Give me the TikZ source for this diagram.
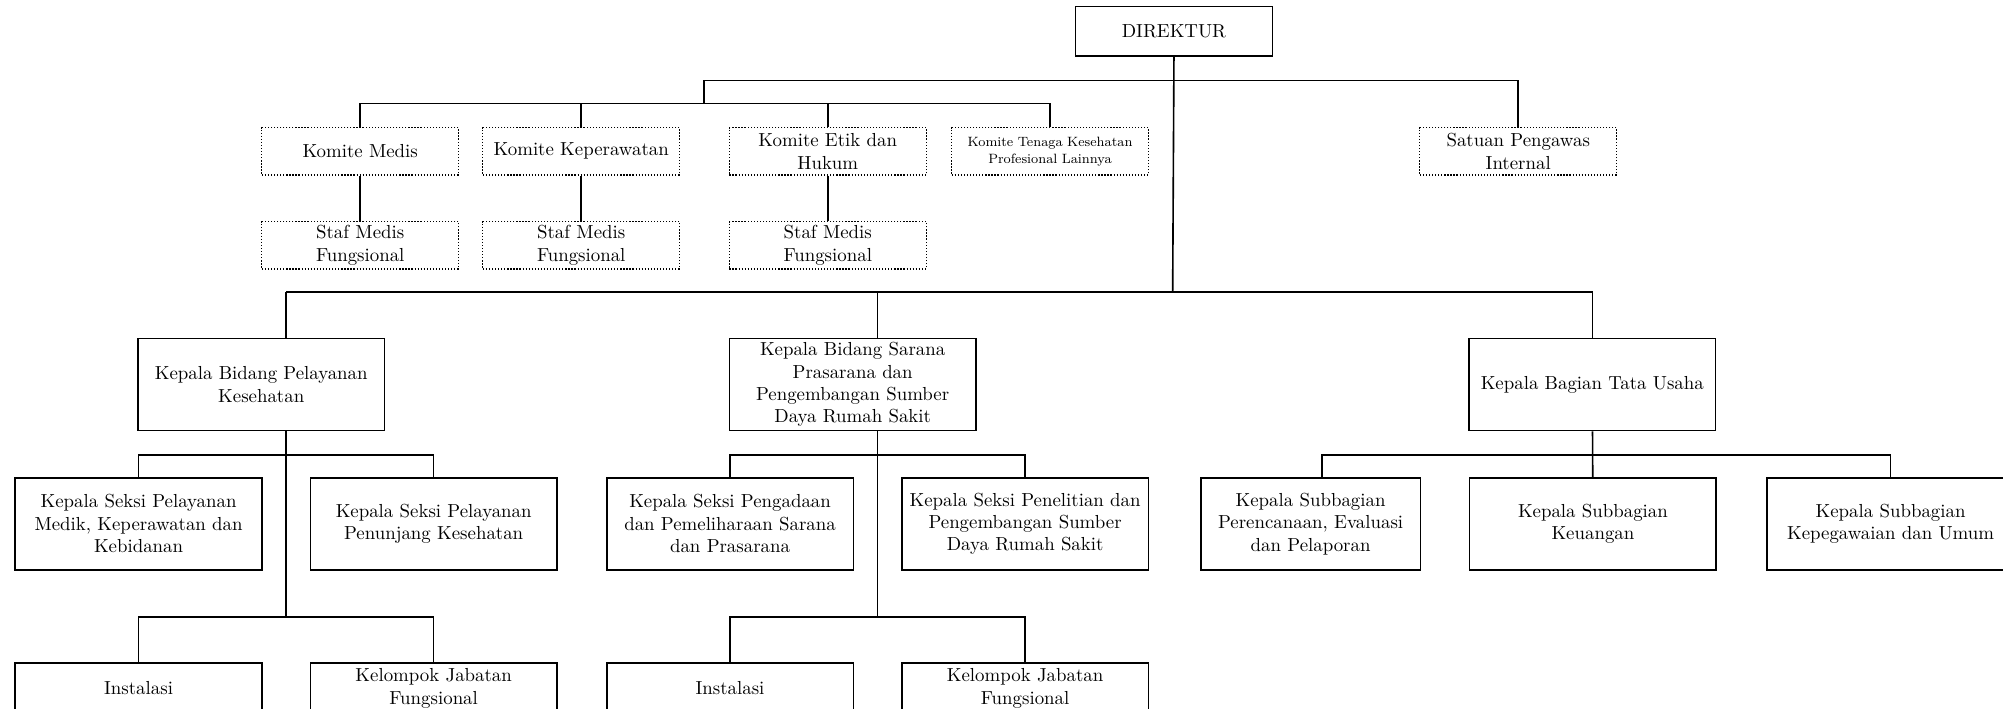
\documentclass[tikz,border=0pt]{standalone}
\usepackage{amsmath}
\usepackage{tikz}

\begin{document}
\begin{tikzpicture}[x=0.025cm,y=-0.025cm,line width=0.9pt,
	box/.style={draw,line width=0.9pt,minimum width=4.825cm,minimum height=1.8cm,text width=4.8cm,align=center,inner sep=0pt,font=\fontsize{10.5}{12.5}\selectfont},
	dotbox/.style={draw,densely dotted,line width=0.7pt,minimum width=3.85cm,minimum height=0.925cm,text width=3.8cm,align=center,inner sep=0pt,font=\fontsize{10.5}{12.5}\selectfont}]
				\useasboundingbox (0,0) rectangle (1568,555);
				\clip (0,0) rectangle (1568,555);
				
				\node (dir) at (919,24.5) [box,minimum width=3.85cm,minimum height=0.975cm,text width=3.8cm] {DIREKTUR};
				
				\node (km) at (282,118.5) [dotbox] {Komite Medis};
				\node (kk) at (455,118.5) [dotbox] {Komite Keperawatan};
				\node (ke) at (648,118.5) [dotbox] {Komite Etik dan\\Hukum};
				\node (ktk) at (822,118.5) [dotbox,font=\fontsize{7.5}{9.6}\selectfont] {Komite Tenaga Kesehatan\\Profesional Lainnya};
				\node (spi) at (1188.5,118.5) [dotbox] {Satuan Pengawas\\Internal};
				
				\node (sm1) at (282,192) [dotbox] {Staf Medis\\Fungsional};
				\node (sm2) at (455,192) [dotbox] {Staf Medis\\Fungsional};
				\node (sm3) at (648,192) [dotbox] {Staf Medis\\Fungsional};
				
				\node (kbp) at (204.5,301) [box] {Kepala Bidang Pelayanan\\Kesehatan};
				\node (kbs) at (667.5,301) [box] {Kepala Bidang Sarana\\Prasarana dan\\Pengembangan Sumber\\Daya Rumah Sakit};
				\node (kbt) at (1246.5,301) [box] {Kepala Bagian Tata Usaha};
				
				\node (ks1) at (108.5,410) [box] {Kepala Seksi Pelayanan\\Medik, Keperawatan dan\\Kebidanan};
				\node (ks2) at (339.5,410) [box] {Kepala Seksi Pelayanan\\Penunjang Kesehatan};
				\node (ks3) at (571.5,410) [box] {Kepala Seksi Pengadaan\\dan Pemeliharaan Sarana\\dan Prasarana};
				\node (ks4) at (802.5,410) [box] {Kepala Seksi Penelitian dan\\Pengembangan Sumber\\Daya Rumah Sakit};
				\node (kst1) at (1026,410) [box,minimum width=4.3cm,text width=4.25cm] {Kepala Subbagian\\Perencanaan, Evaluasi\\dan Pelaporan};
				\node (kst2) at (1247,410) [box] {Kepala Subbagian\\Keuangan};
				\node (kst3) at (1480,410) [box] {Kepala Subbagian\\Kepegawaian dan Umum};
				
				\node (in1) at (108.5,539) [box,minimum height=1cm] {Instalasi};
				\node (kj1) at (339.5,539) [box,minimum height=1cm] {Kelompok Jabatan\\Fungsional};
				\node (in2) at (571.5,539) [box,minimum height=1cm] {Instalasi};
				\node (kj2) at (802.5,539) [box,minimum height=1cm] {Kelompok Jabatan\\Fungsional};
				
				\coordinate (tb) at (551,63);
				\coordinate (kb) at (551,81);
				\coordinate (bb) at (918,228.5);
				\coordinate (p1) at (224,228.5);
				\coordinate (p2) at (687,228.5);
				\coordinate (s1) at (224,356);
				\coordinate (s2) at (687,356);
				\coordinate (s4) at (1035,356);
				\coordinate (l1) at (224,483);
				\coordinate (l2) at (687,483);
				
				\draw (dir.south) -- (bb);
				\draw (tb) -| (spi.north);
				\draw (tb) -- (kb);
				\draw (km.north) |- (kb) -| (ktk.north);
				\draw (kk.north) -- (kk.north |- kb);
				\draw (ke.north) -- (ke.north |- kb);
				\draw (km) -- (sm1);
				\draw (kk) -- (sm2);
				\draw (ke) -- (sm3);
				
				\draw (p1) -| (kbt.north);
				\draw (p1) -- (p1 |- kbp.north);
				\draw (p2) -- (p2 |- kbs.north);
				
				\draw (s1 |- kbp.south) -- (l1);
				\draw (ks1.north) |- (s1) -| (ks2.north);
				\draw (in1.north) |- (l1) -| (kj1.north);
				\draw (s2 |- kbs.south) -- (l2);
				\draw (ks3.north) |- (s2) -| (ks4.north);
				\draw (in2.north) |- (l2) -| (kj2.north);
				
				\draw (kbt) -- (kst2);
				\draw (s4 |- kst1.north) -- (s4) -| (kst3.north);
			\end{tikzpicture}
\end{document}
